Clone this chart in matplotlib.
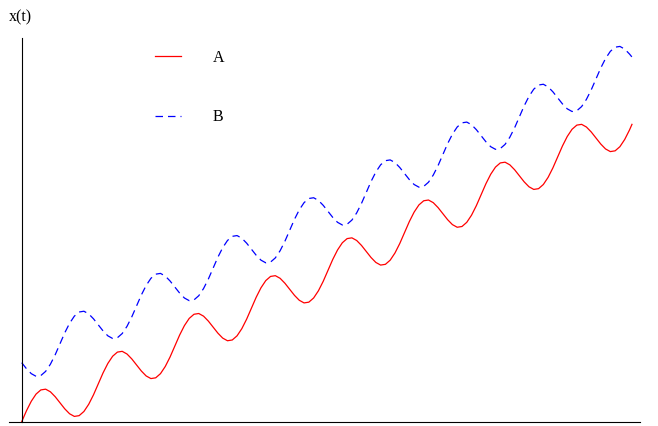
import matplotlib
matplotlib.use("Agg")
import matplotlib.pyplot as plt

# time samples (in oscillation periods), 16 per period, plus the end point
t = [i / 16 for i in range(128)] + [7.97]

# values (y units: rise per period = 1)
a_values = [
    0.00, 0.29, 0.54, 0.73, 0.84, 0.86, 0.79, 0.66, 0.50, 0.34, 0.21, 0.14, 0.16, 0.27, 0.46, 0.71,
    1.00, 1.29, 1.54, 1.73, 1.84, 1.86, 1.79, 1.66, 1.50, 1.34, 1.21, 1.14, 1.16, 1.27, 1.46, 1.71,
    2.00, 2.29, 2.54, 2.73, 2.84, 2.86, 2.79, 2.66, 2.50, 2.34, 2.21, 2.14, 2.16, 2.27, 2.46, 2.71,
    3.00, 3.29, 3.54, 3.73, 3.84, 3.86, 3.79, 3.66, 3.50, 3.34, 3.21, 3.14, 3.16, 3.27, 3.46, 3.71,
    4.00, 4.29, 4.54, 4.73, 4.84, 4.86, 4.79, 4.66, 4.50, 4.34, 4.21, 4.14, 4.16, 4.27, 4.46, 4.71,
    5.00, 5.29, 5.54, 5.73, 5.84, 5.86, 5.79, 5.66, 5.50, 5.34, 5.21, 5.14, 5.16, 5.27, 5.46, 5.71,
    6.00, 6.29, 6.54, 6.73, 6.84, 6.86, 6.79, 6.66, 6.50, 6.34, 6.21, 6.14, 6.16, 6.27, 6.46, 6.71,
    7.00, 7.29, 7.54, 7.73, 7.84, 7.86, 7.79, 7.66, 7.50, 7.34, 7.21, 7.14, 7.16, 7.27, 7.46, 7.71,
    7.86,
]
b_values = [
    1.56, 1.40, 1.27, 1.20, 1.22, 1.33, 1.52, 1.77, 2.06, 2.35, 2.60, 2.79, 2.90, 2.92, 2.85, 2.72,
    2.56, 2.40, 2.27, 2.20, 2.22, 2.33, 2.52, 2.77, 3.06, 3.35, 3.60, 3.79, 3.90, 3.92, 3.85, 3.72,
    3.56, 3.40, 3.27, 3.20, 3.22, 3.33, 3.52, 3.77, 4.06, 4.35, 4.60, 4.79, 4.90, 4.92, 4.85, 4.72,
    4.56, 4.40, 4.27, 4.20, 4.22, 4.33, 4.52, 4.77, 5.06, 5.35, 5.60, 5.79, 5.90, 5.92, 5.85, 5.72,
    5.56, 5.40, 5.27, 5.20, 5.22, 5.33, 5.52, 5.77, 6.06, 6.35, 6.60, 6.79, 6.90, 6.92, 6.85, 6.72,
    6.56, 6.40, 6.27, 6.20, 6.22, 6.33, 6.52, 6.77, 7.06, 7.35, 7.60, 7.79, 7.90, 7.92, 7.85, 7.72,
    7.56, 7.40, 7.27, 7.20, 7.22, 7.33, 7.52, 7.77, 8.06, 8.35, 8.60, 8.79, 8.90, 8.92, 8.85, 8.72,
    8.56, 8.40, 8.27, 8.20, 8.22, 8.33, 8.52, 8.77, 9.06, 9.35, 9.60, 9.79, 9.90, 9.92, 9.85, 9.72,
    9.64,
]
series_labels = ["A", "B"]
y_label = "x(t)"

plt.rcParams["font.family"] = ["Liberation Serif", "DejaVu Serif"]

fig = plt.figure(figsize=(6.58, 4.26), dpi=100)
ax = fig.add_axes([9 / 658, 4.3 / 426, 631 / 658, 383.7 / 426])

ax.plot(t, a_values, color="#ff0000", lw=0.9, label=series_labels[0])
lb, = ax.plot(t, b_values, color="#0000ff", lw=0.9, label=series_labels[1])
lb.set_dashes([6.0, 4.0])

ax.set_xlim(-12.7 / 76.57, (640 - 21.7) / 76.57)
ax.set_ylim(0, (421.7 - 38) / 37.83)

for s in ["top", "right"]:
    ax.spines[s].set_visible(False)
ax.spines["left"].set_position(("data", 0))
ax.spines["bottom"].set_position(("data", 0))
for s in ["left", "bottom"]:
    ax.spines[s].set_linewidth(0.8)
    ax.spines[s].set_color("black")
ax.set_xticks([])
ax.set_yticks([])

fig.text(9 / 658, 1 - 17.5 / 426, y_label, fontsize=11.5, ha="left", va="center")

leg = ax.legend(loc="upper left", bbox_to_anchor=(155 / 658, 1 - 49.5 / 426),
                bbox_transform=fig.transFigure, frameon=False, fontsize=11.5,
                borderpad=0, borderaxespad=0, handlelength=1.63,
                handletextpad=2.0, labelspacing=2.75)

fig.savefig("out.png", dpi=100)
